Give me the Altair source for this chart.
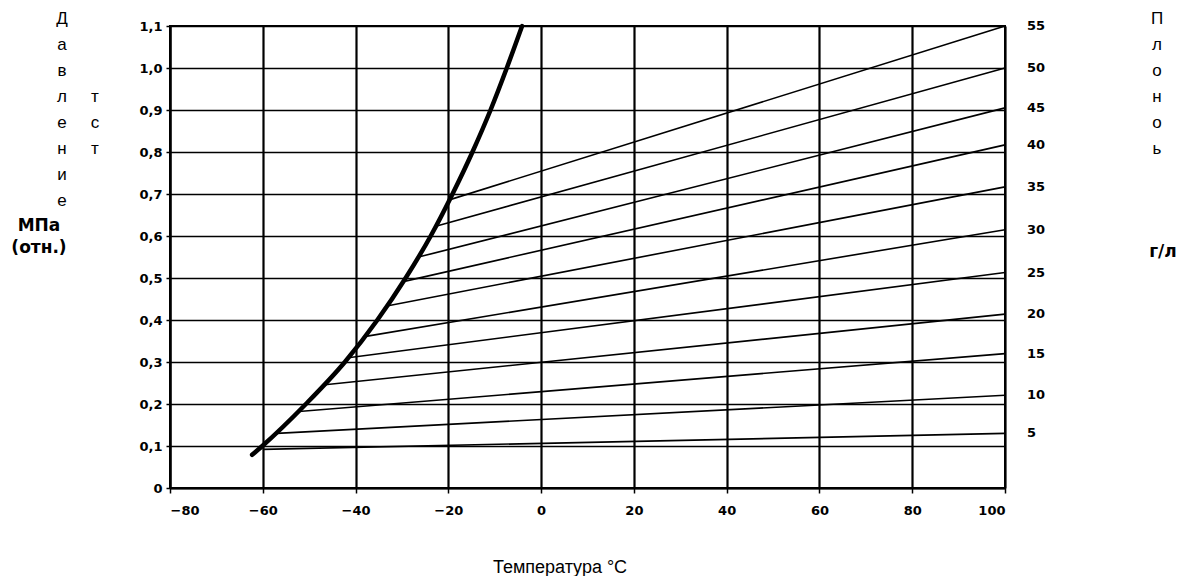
import altair as alt
import pandas as pd

# ---- data ----
temp_ticks = [-80, -60, -40, -20, 0, 20, 40, 60, 80, 100]
press_ticks = [0, 0.1, 0.2, 0.3, 0.4, 0.5, 0.6, 0.7, 0.8, 0.9, 1.0, 1.1]

# saturation (thick) curve
curve_T = [-62.3, -60.1, -50.7, -42.3, -35.3, -29.2, -23.8, -19.1, -14.8, -10.9, -7.4, -4.1]
curve_P = [0.079, 0.100, 0.200, 0.300, 0.400, 0.500, 0.600, 0.700, 0.800, 0.900, 1.000, 1.100]

# constant density lines (g/l): start on the curve, end at 100 °C
density = [5, 10, 15, 20, 25, 30, 35, 40, 45, 50, 55]
iso_start_T = [-60.0, -57.0, -52.2, -46.6, -41.6, -37.8, -33.0, -29.5, -26.0, -22.5, -19.8]
iso_start_P = [0.092, 0.130, 0.182, 0.246, 0.310, 0.361, 0.434, 0.492, 0.551, 0.624, 0.686]
iso_end_T = [100] * 11
iso_end_P = [0.130, 0.221, 0.320, 0.414, 0.513, 0.615, 0.717, 0.817, 0.905, 1.000, 1.100]

left_title_col1 = ["Д", "а", "в", "л", "е", "н", "и", "е"]
left_title_col2 = ["т", "", "", "с", "т"]
left_units = ["МПа", "(отн.)"]
right_title = ["П", "л", "о", "", "н", "о", "", "", "ь"]
right_units = "г/л"
x_title = "Температура °C"

# ---- tables ----
curve_df = pd.DataFrame({"T": curve_T, "P": curve_P})
rows = []
for d, t0, p0, t1, p1 in zip(density, iso_start_T, iso_start_P, iso_end_T, iso_end_P):
    rows.append({"d": d, "T": t0, "P": p0, "o": 0})
    rows.append({"d": d, "T": t1, "P": p1, "o": 1})
iso_df = pd.DataFrame(rows)
end_df = pd.DataFrame({"d": density, "T": iso_end_T, "P": iso_end_P,
                       "label": [str(d) for d in density]})
one = pd.DataFrame({"k": [0]})

xscale = alt.Scale(domain=[-80, 100], nice=False, zero=False)
yscale = alt.Scale(domain=[0, 1.1], nice=False, zero=False)

xaxis = alt.Axis(values=temp_ticks, title=None, grid=True, tickSize=5,
                 labelPadding=11, gridWidth=2.2)
yaxis = alt.Axis(values=press_ticks, title=None, grid=True, tickSize=4,
                 labelPadding=4, gridWidth=1.5,
                 labelExpr="datum.value == 0 ? '0' : replace(format(datum.value, '.1f'), '.', ',')")

X = alt.X("T:Q", scale=xscale, axis=xaxis)
Y = alt.Y("P:Q", scale=yscale, axis=yaxis)

iso = alt.Chart(iso_df).mark_line(color="black", strokeWidth=1.6).encode(
    x=X, y=Y, detail="d:N", order="o:Q")

curve = alt.Chart(curve_df).mark_line(color="black", strokeWidth=4.5,
                                      interpolate="monotone", strokeCap="round").encode(
    x=alt.X("T:Q", scale=xscale), y=alt.Y("P:Q", scale=yscale))

end_labels = alt.Chart(end_df).mark_text(
    align="left", baseline="middle", dx=22, font="DejaVu Sans",
    fontWeight="bold", fontSize=13, color="black").encode(
    x=alt.X("T:Q", scale=xscale), y=alt.Y("P:Q", scale=yscale), text="label:N")

def txt(lines, x, y, size=17, bold=False, lh=26, align="center", font="Liberation Sans"):
    return alt.Chart(one).mark_text(
        text=lines, align=align, baseline="alphabetic", lineHeight=lh,
        font=font, fontSize=size,
        fontWeight="bold" if bold else "normal", color="black").encode(
        x=alt.value(x), y=alt.value(y))

t1 = txt(left_title_col1, -108, -2)
t2 = txt(left_title_col2, -75, 76)
t3 = txt(left_units, -131, 205, size=17, bold=True, lh=22, font="DejaVu Sans")
t4 = txt(right_title, 987, -2)
t5 = txt([right_units], 993, 231, size=17, bold=True, font="DejaVu Sans")
t6 = txt([x_title], 390, 547, size=18)

chart = alt.layer(iso, curve, end_labels, t1, t2, t3, t4, t5, t6).properties(
    width=835, height=462,
    autosize=alt.AutoSizeParams(type="none"),
    padding={"left": 162, "top": 18, "right": 177, "bottom": 88},
).configure_view(stroke="black", strokeWidth=2).configure_axis(
    domainColor="black", domainWidth=2, tickColor="black", tickWidth=1.5,
    gridColor="black", gridOpacity=1,
    labelFont="DejaVu Sans", labelFontWeight="bold", labelFontSize=13,
    labelColor="black")

chart.save("out.html", embed_options={"renderer": "svg", "actions": False})
